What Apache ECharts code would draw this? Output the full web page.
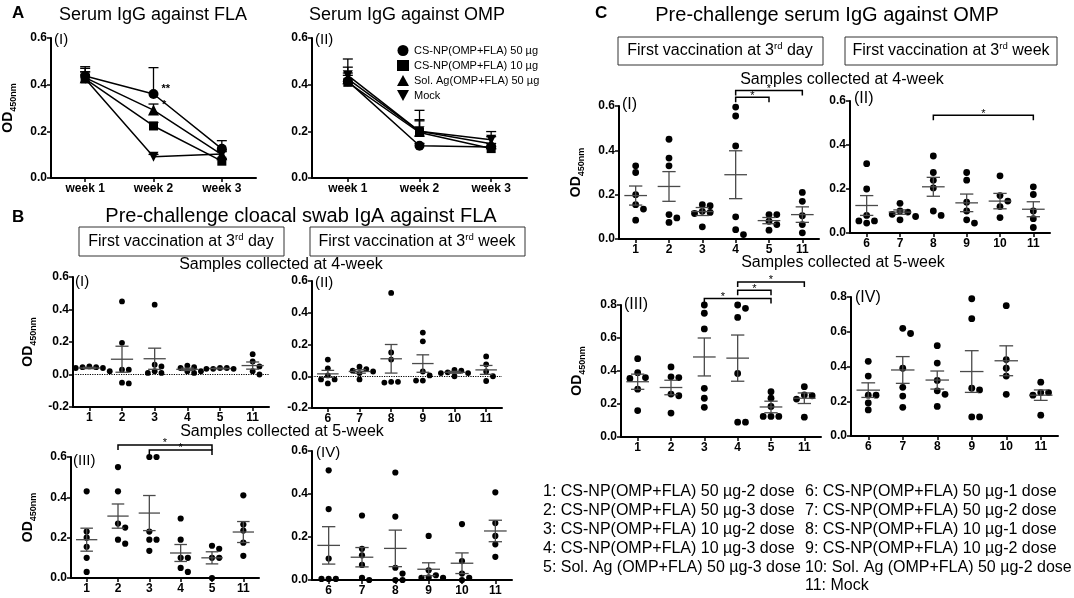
<!DOCTYPE html>
<html>
<head>
<meta charset="UTF-8">
<title>Serum IgG / cloacal IgA</title>
<style>
  html, body { margin: 0; padding: 0; background: #fff; }
  #main { width: 1074px; height: 598px; }
</style>
</head>
<body>
<div id="main"></div>
<script src="https://cdn.jsdelivr.net/npm/echarts/dist/echarts.min.js"></script>
<script>
// ---- panel A: serum IgG, mean with upper SEM, by week ----
var weeks = ['week 1', 'week 2', 'week 3'];
var groupNamesA = ['CS-NP(OMP+FLA) 50 µg', 'CS-NP(OMP+FLA) 10 µg', 'Sol. Ag(OMP+FLA) 50 µg', 'Mock'];
var groupSymbols = ['circle', 'rect', 'triangle', 'path://M0,0L10,0L5,9Z'];
var groupSizes = [10, 9, 11, 10];
var flaMean = [[0.437, 0.36, 0.125], [0.425, 0.223, 0.072], [0.43, 0.291, 0.10], [0.425, 0.091, 0.103]];
var flaErr = [[0.04, 0.113, 0.035], [0.03, 0.015, 0.01], [0.04, 0.026, 0.02], [0.03, 0.01, 0.01]];
var flaStars = [['', '**', ''], ['', '', ''], ['', '*', ''], ['', '', '']];
var ompMean = [[0.415, 0.138, 0.133], [0.41, 0.195, 0.126], [0.425, 0.2, 0.147], [0.44, 0.2, 0.164]];
var ompErr = [[0.035, 0.01, 0.015], [0.03, 0.095, 0.01], [0.05, 0.05, 0.03], [0.07, 0.045, 0.035]];

// ---- panels B and C: individual birds, mean and SEM ----
var catsEarly = ['1', '2', '3', '4', '5', '11'];
var catsLate = ['6', '7', '8', '9', '10', '11'];

var b1Dots = [[0.045, 0.045, 0.04, 0.04, 0.05, 0.02], [0.45, 0.195, 0.03, 0.03, -0.055, -0.05],
  [0.43, 0.06, 0.05, 0.01, 0.01, 0.02], [0.055, 0.045, 0.04, 0.02, 0.02, 0.01],
  [0.04, 0.04, 0.035, 0.035, 0.035], [0.125, 0.08, 0.05, 0.02, 0.0]];
var b1Mean = [0.04, 0.094, 0.097, 0.032, 0.037, 0.055];
var b1Sem = [0.004, 0.08, 0.065, 0.007, 0.002, 0.022];

var b2Dots = [[0.105, 0.05, 0.005, -0.02, -0.02, -0.045], [0.06, 0.045, 0.035, 0.03, 0.02, -0.02],
  [0.525, 0.15, 0.105, -0.04, -0.035, -0.035], [0.275, 0.22, 0.03, 0.005, -0.027, -0.027],
  [0.04, 0.035, 0.025, 0.02, 0.02, 0.0], [0.125, 0.075, 0.03, 0.0, -0.03]];
var b2Mean = [0.015, 0.03, 0.11, 0.08, 0.025, 0.04];
var b2Sem = [0.022, 0.011, 0.09, 0.055, 0.006, 0.028];

var b3Dots = [[0.43, 0.23, 0.2, 0.155, 0.1, 0.03], [0.55, 0.43, 0.27, 0.25, 0.19, 0.17],
  [0.6, 0.6, 0.23, 0.19, 0.19, 0.135], [0.295, 0.19, 0.1, 0.1, 0.05, 0.03],
  [0.16, 0.145, 0.1, 0.1, 0.0], [0.41, 0.265, 0.235, 0.175, 0.11]];
var b3Mean = [0.19, 0.307, 0.322, 0.124, 0.1, 0.228];
var b3Sem = [0.057, 0.06, 0.087, 0.042, 0.03, 0.052];
var b3Brackets = [[1, 4, 0.66, 0.5], [2, 4, 0.635, 0.5]];

var b4Dots = [[0.51, 0.33, 0.1, 0.005, 0.005, 0.005], [0.3, 0.145, 0.115, 0.07, 0.0, 0.01],
  [0.5, 0.295, 0.057, 0.03, 0.0, 0.0], [0.205, 0.045, 0.022, 0.01, 0.01, 0.012],
  [0.26, 0.088, 0.03, 0.01, 0.0], [0.408, 0.265, 0.205, 0.166, 0.108]];
var b4Mean = [0.161, 0.106, 0.147, 0.05, 0.078, 0.228];
var b4Sem = [0.087, 0.045, 0.085, 0.03, 0.048, 0.05];

var c1Dots = [[0.33, 0.3, 0.2, 0.155, 0.135, 0.085], [0.45, 0.365, 0.33, 0.11, 0.095, 0.075],
  [0.155, 0.15, 0.125, 0.12, 0.115, 0.055], [0.595, 0.555, 0.42, 0.1, 0.042, 0.02],
  [0.11, 0.11, 0.08, 0.065, 0.04], [0.21, 0.17, 0.105, 0.065, 0.028]];
var c1Mean = [0.196, 0.237, 0.124, 0.29, 0.083, 0.11];
var c1Sem = [0.043, 0.067, 0.018, 0.108, 0.014, 0.035];
var c1Brackets = [[3, 4, 0.64, 0.5], [3, 5, 0.67, 0.5]];

var c2Dots = [[0.315, 0.2, 0.08, 0.055, 0.055, 0.045], [0.135, 0.1, 0.095, 0.085, 0.075, 0.06],
  [0.35, 0.275, 0.24, 0.205, 0.1, 0.08], [0.275, 0.24, 0.14, 0.1, 0.06, 0.045],
  [0.26, 0.17, 0.145, 0.12, 0.07], [0.21, 0.175, 0.1, 0.065, 0.025]];
var c2Mean = [0.125, 0.095, 0.21, 0.137, 0.145, 0.108];
var c2Sem = [0.045, 0.01, 0.043, 0.04, 0.035, 0.034];
var c2Brackets = [[2, 5, 0.535, 0.5]];

var c3Dots = [[0.475, 0.39, 0.36, 0.355, 0.29, 0.16], [0.425, 0.365, 0.36, 0.26, 0.25, 0.145],
  [0.8, 0.75, 0.655, 0.295, 0.235, 0.18], [0.8, 0.78, 0.725, 0.385, 0.09, 0.09],
  [0.275, 0.235, 0.185, 0.125, 0.125, 0.125], [0.305, 0.255, 0.25, 0.23, 0.12]];
var c3Mean = [0.335, 0.3, 0.485, 0.478, 0.182, 0.235];
var c3Sem = [0.046, 0.044, 0.115, 0.14, 0.035, 0.032];
var c3Brackets = [[2, 4, 0.84, 0.28], [3, 4, 0.89, 0.5], [3, 5, 0.94, 0.5]];

var c4Dots = [[0.43, 0.345, 0.235, 0.235, 0.19, 0.15], [0.62, 0.59, 0.39, 0.28, 0.23, 0.165],
  [0.52, 0.42, 0.32, 0.26, 0.24, 0.17], [0.79, 0.675, 0.275, 0.265, 0.11, 0.11],
  [0.75, 0.44, 0.39, 0.345, 0.24], [0.31, 0.25, 0.25, 0.235, 0.12]];
var c4Mean = [0.264, 0.38, 0.322, 0.371, 0.433, 0.235];
var c4Sem = [0.042, 0.077, 0.052, 0.12, 0.086, 0.03];

var keyLeft = ['1: CS-NP(OMP+FLA) 50 µg-2 dose', '2: CS-NP(OMP+FLA) 50 µg-3 dose', '3: CS-NP(OMP+FLA) 10 µg-2 dose',
  '4: CS-NP(OMP+FLA) 10 µg-3 dose', '5: Sol. Ag (OMP+FLA) 50 µg-3 dose'];
var keyRight = ['6: CS-NP(OMP+FLA) 50 µg-1 dose', '7: CS-NP(OMP+FLA) 50 µg-2 dose', '8: CS-NP(OMP+FLA) 10 µg-1 dose',
  '9: CS-NP(OMP+FLA) 10 µg-2 dose', '10: Sol. Ag (OMP+FLA) 50 µg-2 dose', '11: Mock'];

var FONT = 'Liberation Sans';

function yAx(grid, min, max, name, gap) {
    return {
        type: 'value', gridIndex: grid, min: min, max: max, interval: 0.2,
        name: name ? '{a|OD}{b|450nm}' : '', nameLocation: 'middle', nameGap: gap || 0, nameRotate: 90,
        nameTextStyle: {
            rich: {
                a: { fontSize: 14, fontWeight: 'bold', lineHeight: 19, color: '#000', fontFamily: FONT },
                b: { fontSize: 9, fontWeight: 'bold', verticalAlign: 'bottom', color: '#000', fontFamily: FONT }
            }
        },
        axisLine: { show: true, onZero: false, lineStyle: { color: '#000', width: 2 } },
        axisTick: { show: true, length: 4, lineStyle: { color: '#000', width: 1.5 } },
        splitLine: { show: false },
        axisLabel: {
            color: '#000', fontWeight: 'bold', fontSize: 12, margin: 4, fontFamily: FONT,
            formatter: function (v) { return Math.abs(v) < 1e-9 ? '0.0' : v.toFixed(1); }
        }
    };
}

function xAx(grid, cats, fs) {
    return {
        type: 'category', gridIndex: grid, data: cats, boundaryGap: true,
        axisLine: { show: true, onZero: false, lineStyle: { color: '#000', width: 2 } },
        axisTick: { show: true, alignWithLabel: true, length: 4, lineStyle: { color: '#000', width: 1.5 } },
        axisLabel: { color: '#000', fontWeight: 'bold', fontSize: fs || 12, margin: 5, interval: 0, fontFamily: FONT },
        splitLine: { show: false }
    };
}

function lineSeries(grid, means, stars) {
    return means.map(function (m, g) {
        return {
            name: groupNamesA[g], type: 'line', xAxisIndex: grid, yAxisIndex: grid, z: 3,
            symbol: groupSymbols[g], symbolSize: groupSizes[g],
            lineStyle: { color: '#000', width: 1.5 }, itemStyle: { color: '#000' },
            data: m.map(function (v, w) {
                var s = stars ? stars[g][w] : '';
                return s ? { value: v, label: { show: true, formatter: s, position: 'right', distance: 3, offset: [0, -5], color: '#000', fontSize: 11, fontWeight: 'bold' } } : v;
            })
        };
    });
}

function errSeries(grid, means, errs) {
    var data = [];
    means.forEach(function (m, g) {
        m.forEach(function (v, w) { data.push([w, v, errs[g][w]]); });
    });
    return {
        type: 'custom', xAxisIndex: grid, yAxisIndex: grid, z: 2, data: data,
        encode: { x: 0, y: 1 },
        renderItem: function (params, api) {
            var p = api.coord([api.value(0), api.value(1)]);
            var t = api.coord([api.value(0), api.value(1) + api.value(2)]);
            var st = { stroke: '#000', lineWidth: 1.3 };
            return { type: 'group', children: [
                { type: 'line', shape: { x1: p[0], y1: p[1], x2: t[0], y2: t[1] }, style: st },
                { type: 'line', shape: { x1: t[0] - 5, y1: t[1], x2: t[0] + 5, y2: t[1] }, style: st }
            ] };
        }
    };
}

function dotSeries(grid, dots, means, sems, r, zeroLine) {
    var s = {
        type: 'custom', xAxisIndex: grid, yAxisIndex: grid, z: 2,
        data: means.map(function (m, i) { return [i, m, sems[i]]; }),
        encode: { x: 0, y: 1 },
        renderItem: function (params, api) {
            var i = params.dataIndex;
            var c = api.coord([i, api.value(1)]);
            var band = api.size([1, 0])[0];
            var kids = [];
            var placed = [];
            var d = 2 * r + 1;
            var offs = [0, d, -d, 2 * d, -2 * d, 3 * d, -3 * d];
            dots[i].slice().sort(function (a, b) { return b - a; }).forEach(function (v) {
                var y = api.coord([i, v])[1];
                for (var k = 0; k < offs.length; k++) {
                    var x = c[0] + offs[k];
                    var ok = placed.every(function (p) {
                        return (p[0] - x) * (p[0] - x) + (p[1] - y) * (p[1] - y) >= 3.6 * r * r;
                    });
                    if (ok || k === offs.length - 1) { placed.push([x, y]); break; }
                }
            });
            placed.forEach(function (p) {
                kids.push({ type: 'circle', shape: { cx: p[0], cy: p[1], r: r }, style: { fill: '#000' } });
            });
            var hi = api.coord([i, api.value(1) + api.value(2)])[1];
            var lo = api.coord([i, api.value(1) - api.value(2)])[1];
            var mw = band * 0.34, cw = band * 0.2;
            var st = { stroke: '#4a4a4a', lineWidth: 1.3 };
            kids.push({ type: 'line', shape: { x1: c[0] - mw, y1: c[1], x2: c[0] + mw, y2: c[1] }, style: st });
            kids.push({ type: 'line', shape: { x1: c[0] - cw, y1: hi, x2: c[0] + cw, y2: hi }, style: st });
            kids.push({ type: 'line', shape: { x1: c[0] - cw, y1: lo, x2: c[0] + cw, y2: lo }, style: st });
            kids.push({ type: 'line', shape: { x1: c[0], y1: hi, x2: c[0], y2: lo }, style: st });
            return { type: 'group', children: kids };
        }
    };
    if (zeroLine) {
        s.markLine = {
            silent: true, symbol: 'none', label: { show: false }, animation: false,
            lineStyle: { type: 'dotted', color: '#000', width: 1.2 }, data: [{ yAxis: 0 }]
        };
    }
    return s;
}

function bracketSeries(grid, brackets) {
    return {
        type: 'custom', xAxisIndex: grid, yAxisIndex: grid, z: 4, clip: false,
        data: brackets, encode: { x: 0, y: 2 },
        renderItem: function (params, api) {
            var b = brackets[params.dataIndex];
            var p1 = api.coord([b[0], b[2]]);
            var p2 = api.coord([b[1], b[2]]);
            var sx = p1[0] + (p2[0] - p1[0]) * b[3];
            return { type: 'group', children: [
                { type: 'polyline', shape: { points: [[p1[0], p1[1] + 5], [p1[0], p1[1]], [p2[0], p2[1]], [p2[0], p2[1] + 5]] },
                  style: { stroke: '#000', lineWidth: 1.5, fill: null } },
                { type: 'text', style: { text: '*', x: sx, y: p1[1] + 4, textAlign: 'center', align: 'center',
                  textVerticalAlign: 'bottom', verticalAlign: 'bottom', fontSize: 11, fontFamily: FONT, fill: '#000' } }
            ] };
        }
    };
}

function txt(x, y, text, size, opts) {
    opts = opts || {};
    return {
        type: 'text', x: x, y: y, silent: true,
        style: {
            text: text, fontSize: size, fontFamily: FONT, fontWeight: opts.bold ? 'bold' : 'normal', fill: '#000',
            textAlign: opts.align || 'left', align: opts.align || 'left',
            textVerticalAlign: 'middle', verticalAlign: 'middle'
        }
    };
}

function supTxt(x, y, pre, sup, post, size) {
    return {
        type: 'text', x: x, y: y, silent: true,
        style: {
            text: '{n|' + pre + '}{s|' + sup + '}{n|' + post + '}',
            textAlign: 'center', align: 'center', textVerticalAlign: 'middle', verticalAlign: 'middle',
            rich: {
                n: { fontSize: size, fontFamily: FONT, lineHeight: size + 3, fill: '#000', color: '#000' },
                s: { fontSize: size * 0.6, fontFamily: FONT, verticalAlign: 'top', fill: '#000', color: '#000' }
            }
        }
    };
}

function box(x, y, w, h) {
    return { type: 'rect', silent: true, shape: { x: x, y: y, width: w, height: h },
        style: { fill: null, stroke: '#333', lineWidth: 1 } };
}

var grids = [
    { left: 51, top: 38, width: 205, height: 140 },
    { left: 312, top: 38, width: 215, height: 140 },
    { left: 73, top: 277, width: 196, height: 130 },
    { left: 312, top: 281, width: 190, height: 127 },
    { left: 71, top: 457, width: 188, height: 121 },
    { left: 312, top: 451, width: 200, height: 129 },
    { left: 619, top: 106, width: 200, height: 133 },
    { left: 850, top: 101, width: 200, height: 132 },
    { left: 621, top: 305, width: 200, height: 132 },
    { left: 851, top: 297, width: 207, height: 139 }
].map(function (g) { g.containLabel = false; g.outerBoundsMode = 'none'; return g; });

var xAxes = [
    xAx(0, weeks, 12), xAx(1, weeks, 12),
    xAx(2, catsEarly), xAx(3, catsLate), xAx(4, catsEarly), xAx(5, catsLate),
    xAx(6, catsEarly), xAx(7, catsLate), xAx(8, catsEarly), xAx(9, catsLate)
];
var yAxes = [
    yAx(0, 0, 0.6, true, 33), yAx(1, 0, 0.6),
    yAx(2, -0.2, 0.6, true, 35), yAx(3, -0.2, 0.6),
    yAx(4, 0, 0.6, true, 33), yAx(5, 0, 0.6),
    yAx(6, 0, 0.6, true, 33), yAx(7, 0, 0.6),
    yAx(8, 0, 0.8, true, 34), yAx(9, 0, 0.8)
];

var series = []
    .concat([errSeries(0, flaMean, flaErr)], lineSeries(0, flaMean, flaStars))
    .concat([errSeries(1, ompMean, ompErr)], lineSeries(1, ompMean, null))
    .concat([
        dotSeries(2, b1Dots, b1Mean, b1Sem, 2.9, true),
        dotSeries(3, b2Dots, b2Mean, b2Sem, 2.9, true),
        dotSeries(4, b3Dots, b3Mean, b3Sem, 3.1), bracketSeries(4, b3Brackets),
        dotSeries(5, b4Dots, b4Mean, b4Sem, 3.1),
        dotSeries(6, c1Dots, c1Mean, c1Sem, 3.4), bracketSeries(6, c1Brackets),
        dotSeries(7, c2Dots, c2Mean, c2Sem, 3.4), bracketSeries(7, c2Brackets),
        dotSeries(8, c3Dots, c3Mean, c3Sem, 3.4), bracketSeries(8, c3Brackets),
        dotSeries(9, c4Dots, c4Mean, c4Sem, 3.4)
    ]);

var graphics = [
    txt(12, 13, 'A', 17, { bold: true }),
    txt(153, 15, 'Serum IgG against FLA', 18, { align: 'center' }),
    txt(407, 15, 'Serum IgG against OMP', 18, { align: 'center' }),
    txt(54, 40, '(I)', 15), txt(315, 40, '(II)', 15),

    txt(12, 217, 'B', 17, { bold: true }),
    txt(301, 216, 'Pre-challenge cloacal swab IgA against FLA', 20, { align: 'center' }),
    box(79, 227, 205, 29), box(310, 227, 215, 29),
    supTxt(181, 242, 'First vaccination at 3', 'rd', ' day', 16),
    supTxt(417, 242, 'First vaccination at 3', 'rd', ' week', 16),
    txt(281, 265, 'Samples collected at 4-week', 16, { align: 'center' }),
    txt(282, 432, 'Samples collected at 5-week', 16, { align: 'center' }),
    txt(75, 282, '(I)', 15), txt(315, 283, '(II)', 15),
    txt(73, 461, '(III)', 15), txt(316, 453, '(IV)', 15),

    txt(595, 13, 'C', 17, { bold: true }),
    txt(827, 15, 'Pre-challenge serum IgG against OMP', 20, { align: 'center' }),
    box(618, 37, 205, 28), box(845, 37, 212, 28),
    supTxt(720, 51, 'First vaccination at 3', 'rd', ' day', 16),
    supTxt(951, 51, 'First vaccination at 3', 'rd', ' week', 16),
    txt(842, 80, 'Samples collected at 4-week', 16, { align: 'center' }),
    txt(843, 263, 'Samples collected at 5-week', 16, { align: 'center' }),
    txt(622, 105, '(I)', 16), txt(854, 99, '(II)', 16),
    txt(624, 305, '(III)', 16), txt(855, 298, '(IV)', 16)
];
keyLeft.forEach(function (t, i) { graphics.push(txt(543, 492 + i * 18.8, t, 16)); });
keyRight.forEach(function (t, i) { graphics.push(txt(805, 492 + i * 18.8, t, 16)); });

var chart = echarts.init(document.getElementById('main'));
chart.setOption({
    animation: false,
    backgroundColor: '#fff',
    textStyle: { fontFamily: FONT },
    color: ['#000'],
    legend: {
        show: true, orient: 'vertical', left: 392, top: 40, itemGap: 4, itemWidth: 12, itemHeight: 11,
        selectedMode: false,
        textStyle: { color: '#000', fontSize: 11, fontFamily: FONT },
        data: groupNamesA.map(function (n, g) { return { name: n, icon: groupSymbols[g] }; })
    },
    grid: grids,
    xAxis: xAxes,
    yAxis: yAxes,
    series: series,
    graphic: graphics
});
</script>
</body>
</html>
